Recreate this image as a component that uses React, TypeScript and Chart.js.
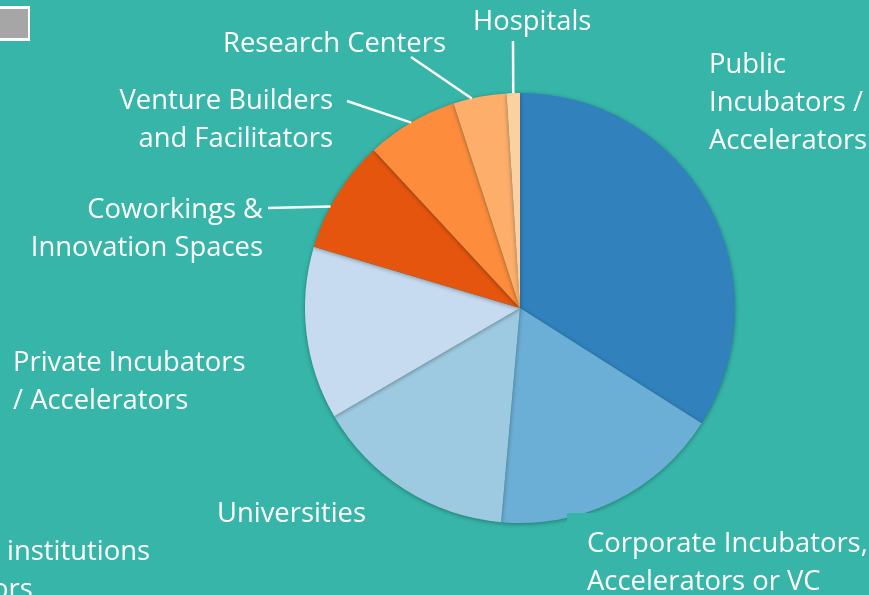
import React, { useEffect, useRef } from "react";
import { Chart, registerables } from "chart.js";

Chart.register(...registerables);

const categories = [
  "Public Incubators / Accelerators",
  "Corporate Incubators, Accelerators or VC",
  "Universities",
  "Private Incubators / Accelerators",
  "Coworkings & Innovation Spaces",
  "Venture Builders and Facilitators",
  "Research Centers",
  "Hospitals",
];
const shares = [34.0, 17.4, 15.2, 13.0, 8.5, 6.9, 4.0, 1.0];
const sliceColors = [
  "#3181BD",
  "#6BAED6",
  "#9ECAE1",
  "#C6DBEF",
  "#E6550D",
  "#FD8D3C",
  "#FDAE6B",
  "#FDD0A2",
];

const BG = "#36B5A8";
const FONT = "27.4px 'Open Sans', 'Noto Sans', sans-serif";
const LINE_H = 38;

type LabelSpec = {
  index: number;
  lines: string[];
  x: number;
  y: number;
  align: CanvasTextAlign;
  leader?: { frac: number; x: number; y: number };
};

const labelLayout: LabelSpec[] = [
  { index: 0, lines: ["Public", "Incubators /", "Accelerators"], x: 709, y: 73, align: "left" },
  { index: 1, lines: ["Corporate Incubators,", "Accelerators or VC"], x: 587, y: 552, align: "left" },
  { index: 2, lines: ["Universities"], x: 217, y: 522, align: "left" },
  { index: 3, lines: ["Private Incubators", "/ Accelerators"], x: 13, y: 371, align: "left" },
  { index: 4, lines: ["Coworkings &", "Innovation Spaces"], x: 263, y: 218, align: "right", leader: { frac: 0.38, x: 268, y: 208 } },
  { index: 5, lines: ["Venture Builders", "and Facilitators"], x: 333, y: 109, align: "right", leader: { frac: 0.5, x: 347, y: 101 } },
  { index: 6, lines: ["Research Centers"], x: 446, y: 52, align: "right", leader: { frac: 0.35, x: 411, y: 57 } },
  { index: 7, lines: ["Hospitals"], x: 473, y: 30, align: "left", leader: { frac: 0.5, x: 513, y: 41 } },
];

const otherLabel = { lines: ["Other institutions", "Mentors"], visibleStart: "Other ", x: 7, y: 560 };

const overlayPlugin = {
  id: "overlay",
  beforeDatasetsDraw(chart: any) {
    const ctx = chart.ctx;
    ctx.save();
    ctx.shadowColor = "rgba(0,0,0,0.35)";
    ctx.shadowBlur = 4;
    ctx.shadowOffsetY = 1;
  },
  afterDatasetsDraw(chart: any) {
    chart.ctx.restore();
  },
  afterDraw(chart: any) {
    const ctx: CanvasRenderingContext2D = chart.ctx;
    const meta = chart.getDatasetMeta(0);
    ctx.save();
    // teal box behind corporate label covering the pie edge
    ctx.fillStyle = BG;
    ctx.fillRect(567, 513, 302, 82);
    // grey legend box (partially visible)
    ctx.fillStyle = "#FFFFFF";
    ctx.fillRect(-10, 6, 40, 35);
    ctx.fillStyle = "#A6A6A6";
    ctx.fillRect(-10, 9, 38, 29);

    ctx.strokeStyle = "#FFFFFF";
    ctx.lineWidth = 2.5;
    ctx.fillStyle = "#FFFFFF";
    ctx.font = FONT;
    ctx.textBaseline = "alphabetic";
    for (const l of labelLayout) {
      if (l.leader) {
        const arc = meta.data[l.index];
        const a = arc.startAngle + (arc.endAngle - arc.startAngle) * l.leader.frac;
        const px = arc.x + Math.cos(a) * arc.outerRadius;
        const py = arc.y + Math.sin(a) * arc.outerRadius;
        ctx.beginPath();
        ctx.moveTo(l.leader.x, l.leader.y);
        ctx.lineTo(px, py);
        ctx.stroke();
      }
      ctx.textAlign = l.align;
      l.lines.forEach((t, i) => ctx.fillText(t, l.x, l.y + i * LINE_H));
    }
    ctx.textAlign = "left";
    const ox = otherLabel.x - ctx.measureText(otherLabel.visibleStart).width;
    otherLabel.lines.forEach((t, i) => ctx.fillText(t, ox, otherLabel.y + i * LINE_H));
    ctx.restore();
  },
};

export default function App() {
  const ref = useRef<HTMLCanvasElement | null>(null);
  useEffect(() => {
    if (!ref.current) return;
    const chart = new Chart(ref.current, {
      type: "pie",
      data: {
        labels: categories,
        datasets: [
          {
            data: shares,
            backgroundColor: sliceColors,
            borderWidth: 0,
          },
        ],
      },
      options: {
        animation: false,
        responsive: false,
        layout: { padding: { left: 305, right: 134, top: 93, bottom: 72 } },
        plugins: { legend: { display: false }, tooltip: { enabled: false } },
      },
      plugins: [overlayPlugin],
    });
    return () => chart.destroy();
  }, []);
  return (
    <div style={{ position: "fixed", left: 0, top: 0, width: 869, height: 595, background: BG, overflow: "hidden" }}>
      <canvas ref={ref} width={869} height={595} style={{ display: "block" }} />
    </div>
  );
}
